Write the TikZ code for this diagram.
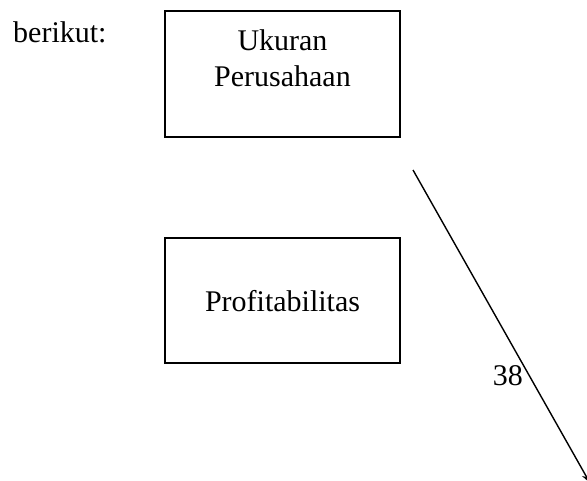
\documentclass[tikz,border=0pt]{standalone}
\usepackage{fontspec}
\setmainfont{Liberation Serif}
\usetikzlibrary{arrows.meta}
\begin{document}
\begin{tikzpicture}[x=1pt,y=-1pt,
  every node/.style={font=\fontsize{30}{36}\selectfont, inner sep=0pt},
  box/.style={draw, line width=1.8pt, minimum width=235pt, minimum height=126pt},
  conn/.style={line width=1.4pt, -{Stealth[length=10pt,width=7pt]}}]
\useasboundingbox (0,0) rectangle (587,480);
\clip (0,0) rectangle (587,480);
\node[anchor=base west] (intro) at (13,42) {berikut:};
\node[box] (b1) at (282.5,74) {};
\node[anchor=base] (t1a) at (282.5,50) {Ukuran};
\node[anchor=base] (t1b) at (282.5,86) {Perusahaan};
\node[box, minimum height=125pt] (b2) at (282.5,300.5) {};
\node[anchor=base] (t2) at (282.5,311) {Profitabilitas};
\coordinate (s) at (413,170);
\coordinate (e) at (590,483);
\draw[conn] (s) -- (e);
\node[anchor=base east] (lab) at (523,385) {38};
\end{tikzpicture}
\end{document}
